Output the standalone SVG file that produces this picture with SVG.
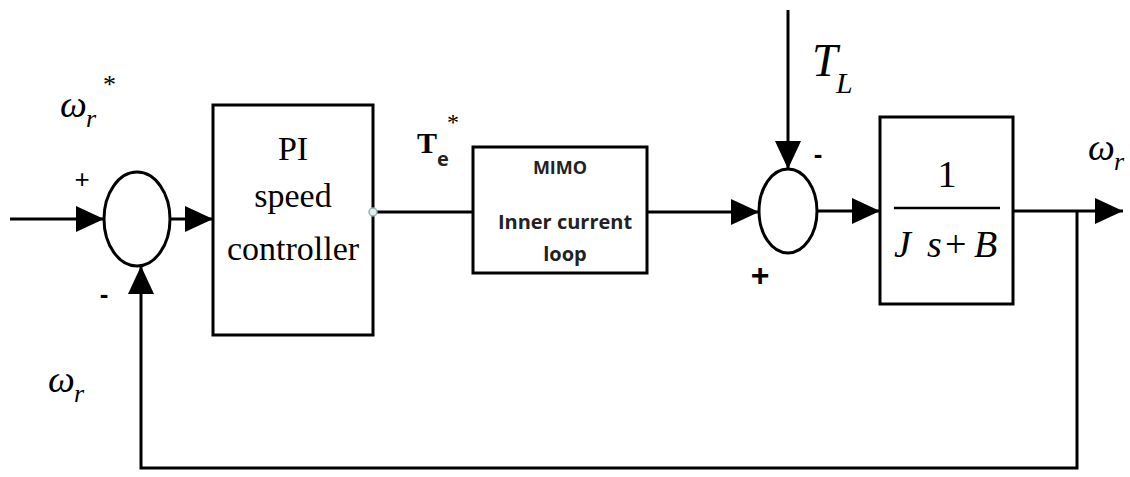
<svg xmlns="http://www.w3.org/2000/svg" width="1130" height="477" viewBox="0 0 1130 477">
<style>
.ln{fill:none;stroke:#000;stroke-width:3}
.bx{fill:#fff;stroke:#000;stroke-width:3}
.sj{fill:#fff;stroke:#000;stroke-width:3}
.ser{font-family:"Liberation Serif",serif;fill:#000}
.it{font-family:"Liberation Serif",serif;font-style:italic;fill:#000}
.sans{font-family:"Open Sans","Liberation Sans",sans-serif;font-weight:bold;fill:#222}
.sgn{font-family:"Liberation Sans",sans-serif;fill:#000}
</style>
<defs>
<marker id="ah" markerUnits="userSpaceOnUse" markerWidth="28" markerHeight="26" refX="28" refY="13" orient="auto">
<path d="M0,0 L28,13 L0,26 z" fill="#000"/>
</marker>
</defs>
<rect width="1130" height="477" fill="#fff"/>
<g id="connectors">
<path class="ln" d="M10,219 H104" marker-end="url(#ah)"/>
<path class="ln" d="M170,219 H213" marker-end="url(#ah)"/>
<path class="ln" d="M373,212 H473"/>
<path class="ln" d="M647,212 H759" marker-end="url(#ah)"/>
<path class="ln" d="M788,10 V169" marker-end="url(#ah)"/>
<path class="ln" d="M817,211 H880" marker-end="url(#ah)"/>
<path class="ln" d="M1013,211 H1123" marker-end="url(#ah)"/>
<path class="ln" d="M1077,211 V468 H141 V266" marker-end="url(#ah)"/>
</g>
<g id="sum1">
<ellipse class="sj" cx="137" cy="219" rx="33" ry="47"/>
<text class="sgn" x="82" y="188" font-size="26" text-anchor="middle">+</text>
<text class="sgn" x="104" y="303" font-size="26" font-weight="bold" text-anchor="middle">-</text>
</g>
<g id="pi">
<rect class="bx" x="213" y="105" width="160" height="230"/>
<text class="ser" x="293" y="160" font-size="34" text-anchor="middle">PI</text>
<text class="ser" x="293" y="207" font-size="34" text-anchor="middle">speed</text>
<text class="ser" x="293" y="260" font-size="34" text-anchor="middle">controller</text>
<circle cx="373" cy="212" r="4" fill="#dff0ec" stroke="#8fb3ad" stroke-width="1.5"/>
</g>
<g id="te-label">
<text class="ser" x="417" y="153" font-size="30" font-weight="bold">T</text>
<text class="sans" x="437" y="166" font-size="20">e</text>
<text class="ser" x="447" y="130" font-size="24">*</text>
</g>
<g id="mimo">
<rect class="bx" x="473" y="147" width="174" height="126"/>
<text class="sans" x="560" y="174" font-size="18" text-anchor="middle">MIMO</text>
<text class="sans" x="565" y="229" font-size="20" text-anchor="middle">Inner current</text>
<text class="sans" x="565" y="261" font-size="20" text-anchor="middle">loop</text>
</g>
<g id="sum2">
<ellipse class="sj" cx="788" cy="211" rx="29" ry="42"/>
<text class="sgn" x="818" y="163" font-size="26" font-weight="bold" text-anchor="middle">-</text>
<text class="sgn" x="760" y="286" font-size="32" font-weight="bold" text-anchor="middle">+</text>
</g>
<g id="tl-label">
<text class="it" x="812" y="76" font-size="46">T</text>
<text class="it" x="836" y="93" font-size="30">L</text>
</g>
<g id="plant">
<rect class="bx" x="880" y="117" width="133" height="187"/>
<text class="ser" x="947" y="187" font-size="38" text-anchor="middle">1</text>
<line x1="894" y1="208" x2="1000" y2="208" stroke="#000" stroke-width="2.5"/>
<text class="it" x="894" y="257" font-size="38">J</text>
<text class="it" x="927" y="257" font-size="38">s</text>
<text class="ser" x="945" y="257" font-size="38">+</text>
<text class="it" x="974" y="257" font-size="38">B</text>
</g>
<g id="labels">
<text class="it" x="60" y="117" font-size="38">ω</text>
<text class="it" x="86" y="127" font-size="26">r</text>
<text class="ser" x="103" y="93" font-size="26">*</text>
<text class="it" x="48" y="392" font-size="38">ω</text>
<text class="it" x="74" y="402" font-size="26">r</text>
<text class="it" x="1088" y="160" font-size="38">ω</text>
<text class="it" x="1114" y="170" font-size="26">r</text>
</g>
</svg>
